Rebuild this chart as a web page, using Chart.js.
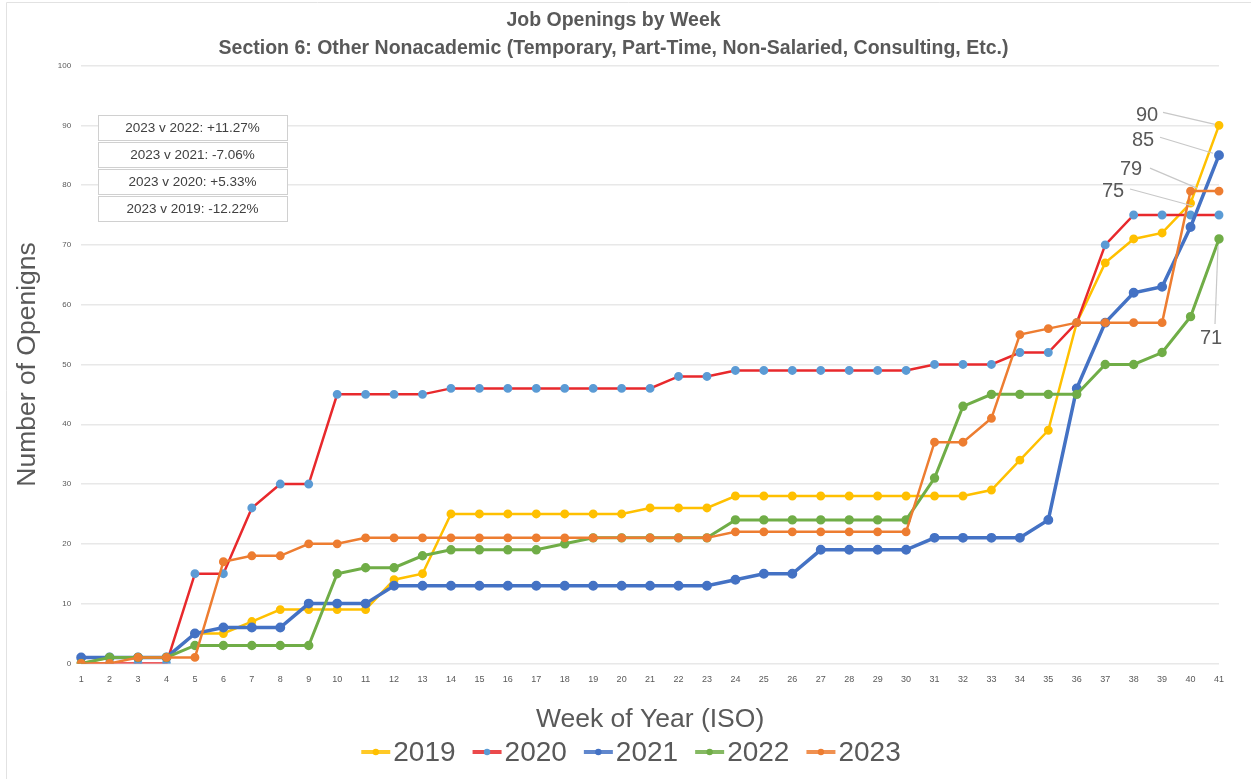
<!DOCTYPE html>
<html>
<head>
<meta charset="utf-8">
<script src="https://cdn.jsdelivr.net/npm/chart.js@4"></script>
<style>
html,body{margin:0;padding:0;background:#fff;}
#wrap{position:relative;width:1251px;height:780px;}
</style>
</head>
<body>
<div id="wrap"><canvas id="c"></canvas></div>
<script>
const weeks = Array.from({length:41},(_,i)=>String(i+1));
const y2019 = [0,1,1,1,5,5,7,9,9,9,9,14,15,25,25,25,25,25,25,25,26,26,26,28,28,28,28,28,28,28,28,28,29,34,39,57,67,71,72,77,90];
const y2020 = [0,0,0,0,15,15,26,30,30,45,45,45,45,46,46,46,46,46,46,46,46,48,48,49,49,49,49,49,49,49,50,50,50,52,52,57,70,75,75,75,75];
const y2021 = [1,1,1,1,5,6,6,6,10,10,10,13,13,13,13,13,13,13,13,13,13,13,13,14,15,15,19,19,19,19,21,21,21,21,24,46,57,62,63,73,85];
const y2022 = [0,1,1,1,3,3,3,3,3,15,16,16,18,19,19,19,19,20,21,21,21,21,21,24,24,24,24,24,24,24,31,43,45,45,45,45,50,50,52,58,71];
const y2023 = [0,0,1,1,1,17,18,18,20,20,21,21,21,21,21,21,21,21,21,21,21,21,21,22,22,22,22,22,22,22,37,37,41,55,56,57,57,57,57,79,79];
const seriesNames = ['2019','2020','2021','2022','2023'];
const comparisons = ['2023 v 2022: +11.27%','2023 v 2021: -7.06%','2023 v 2020: +5.33%','2023 v 2019: -12.22%'];
const titleLines = ['Job Openings by Week','Section 6: Other Nonacademic (Temporary, Part-Time, Non-Salaried, Consulting, Etc.)'];

const FONT = "'Liberation Sans',Arial,sans-serif";
const TXT = '#595959';

function mkDs(label, data, color, markerColor, width, order){
  return {label, data, borderColor:color, backgroundColor:markerColor, pointBackgroundColor:markerColor,
    pointBorderColor:markerColor, borderWidth:width, pointRadius:3.2, pointHoverRadius:3.2, tension:0, fill:false, order};
}
const datasets = [
  mkDs(seriesNames[0], y2019, '#FFC000', '#FFC000', 2.5, 4),
  mkDs(seriesNames[1], y2020, '#E8292C', '#5B9BD5', 2.5, 3),
  mkDs(seriesNames[2], y2021, '#4472C4', '#4472C4', 3.5, 2),
  mkDs(seriesNames[3], y2022, '#70AD47', '#70AD47', 3, 1),
  mkDs(seriesNames[4], y2023, '#ED7D31', '#ED7D31', 2.5, 0)
];
// end-label styles (pixel offsets relative to each series' last point), in series order 2019..2023
const endLabelStyle = [
  {dx:-72, dy:-10, lx:-56, ly:-13, ex:-4, ey:-1},     // 90
  {dx:-106, dy:-24, lx:-89, ly:-26, ex:-26, ey:-9},   // 75
  {dx:-76, dy:-15, lx:-59, ly:-18, ex:-6, ey:-2},     // 85
  {dx:-8, dy:100, lx:-4, ly:85, ex:-1, ey:7},         // 71
  {dx:-88, dy:-22, lx:-69, ly:-23, ex:-22, ey:-3}     // 79
];

const overlay = {
  id:'overlay',
  afterDraw(chart){
    const ctx = chart.ctx;
    ctx.save();
    // faint frame
    ctx.strokeStyle = '#E2E2E2'; ctx.lineWidth = 1;
    ctx.beginPath(); ctx.moveTo(6.5, 779); ctx.lineTo(6.5, 2.5); ctx.lineTo(1251, 2.5); ctx.stroke();
    // end labels
    chart.data.datasets.forEach((ds,i)=>{
      const meta = chart.getDatasetMeta(i);
      const p = meta.data[meta.data.length-1];
      const s = endLabelStyle[i];
      ctx.strokeStyle = '#C8C8C8'; ctx.lineWidth = 1.2;
      ctx.beginPath(); ctx.moveTo(p.x+s.lx, p.y+s.ly); ctx.lineTo(p.x+s.ex, p.y+s.ey); ctx.stroke();
      ctx.fillStyle = TXT; ctx.font = "20px "+FONT; ctx.textAlign='center'; ctx.textBaseline='middle';
      ctx.fillText(String(ds.data[ds.data.length-1]), p.x+s.dx, p.y+s.dy);
    });
    // comparison boxes
    const bx = 98, bw = 189, bh = 25, tops = [115,142,169,196];
    ctx.font = "13.5px "+FONT; ctx.textAlign='center'; ctx.textBaseline='middle';
    comparisons.forEach((t,k)=>{
      ctx.fillStyle = '#fff'; ctx.fillRect(bx, tops[k], bw, bh);
      ctx.strokeStyle = '#D0D0D0'; ctx.lineWidth = 1;
      ctx.strokeRect(bx+0.5, tops[k]+0.5, bw, bh);
      ctx.fillStyle = '#404040';
      ctx.fillText(t, bx+bw/2, tops[k]+bh/2+1);
    });
    // legend
    ctx.font = "28px "+FONT; ctx.textBaseline='middle'; ctx.textAlign='left';
    const iconW = 29, gapT = 3, gapI = 17, ly = 752;
    const widths = chart.data.datasets.map(ds=>ctx.measureText(ds.label).width);
    const total = widths.reduce((a,w)=>a+iconW+gapT+w,0) + gapI*(widths.length-1);
    let x = 631 - total/2;
    chart.data.datasets.forEach((ds,i)=>{
      ctx.strokeStyle = ds.borderColor; ctx.lineWidth = 4; ctx.globalAlpha = 0.85;
      ctx.beginPath(); ctx.moveTo(x, ly); ctx.lineTo(x+iconW, ly); ctx.stroke();
      ctx.globalAlpha = 1;
      ctx.fillStyle = ds.pointBackgroundColor; ctx.beginPath(); ctx.arc(x+iconW/2, ly, 3.2, 0, Math.PI*2); ctx.fill();
      ctx.fillStyle = TXT; ctx.fillText(ds.label, x+iconW+gapT, ly+1);
      x += iconW + gapT + widths[i] + gapI;
    });
    ctx.restore();
  }
};

new Chart(document.getElementById('c'), {
  type:'line',
  data:{labels:weeks, datasets},
  plugins:[overlay],
  options:{
    responsive:true, maintainAspectRatio:false, animation:false,
    layout:{padding:{left:8, right:32, top:0, bottom:44}},
    plugins:{
      title:{display:true, text:titleLines, color:TXT, font:{family:FONT, size:19.5, weight:'bold', lineHeight:1.45}, padding:{top:6,bottom:3}},
      legend:{display:false},
      tooltip:{enabled:false}
    },
    scales:{
      x:{offset:false, grid:{display:false}, border:{display:false},
        ticks:{color:TXT, font:{family:FONT, size:9}, maxRotation:0, autoSkip:false, padding:3},
        title:{display:true, text:'Week of Year (ISO)', color:TXT, font:{family:FONT, size:26.5}, padding:{top:16, bottom:0}}},
      y:{min:0, max:100, grid:{color:'#E8E8E8', lineWidth:1.5, drawTicks:false}, border:{display:false},
        ticks:{stepSize:10, color:TXT, font:{family:FONT, size:8}, padding:10},
        title:{display:true, text:'Number of Openigns', color:TXT, font:{family:FONT, size:26.5}, padding:{bottom:4}}}
    }
  }
});
</script>
</body>
</html>
